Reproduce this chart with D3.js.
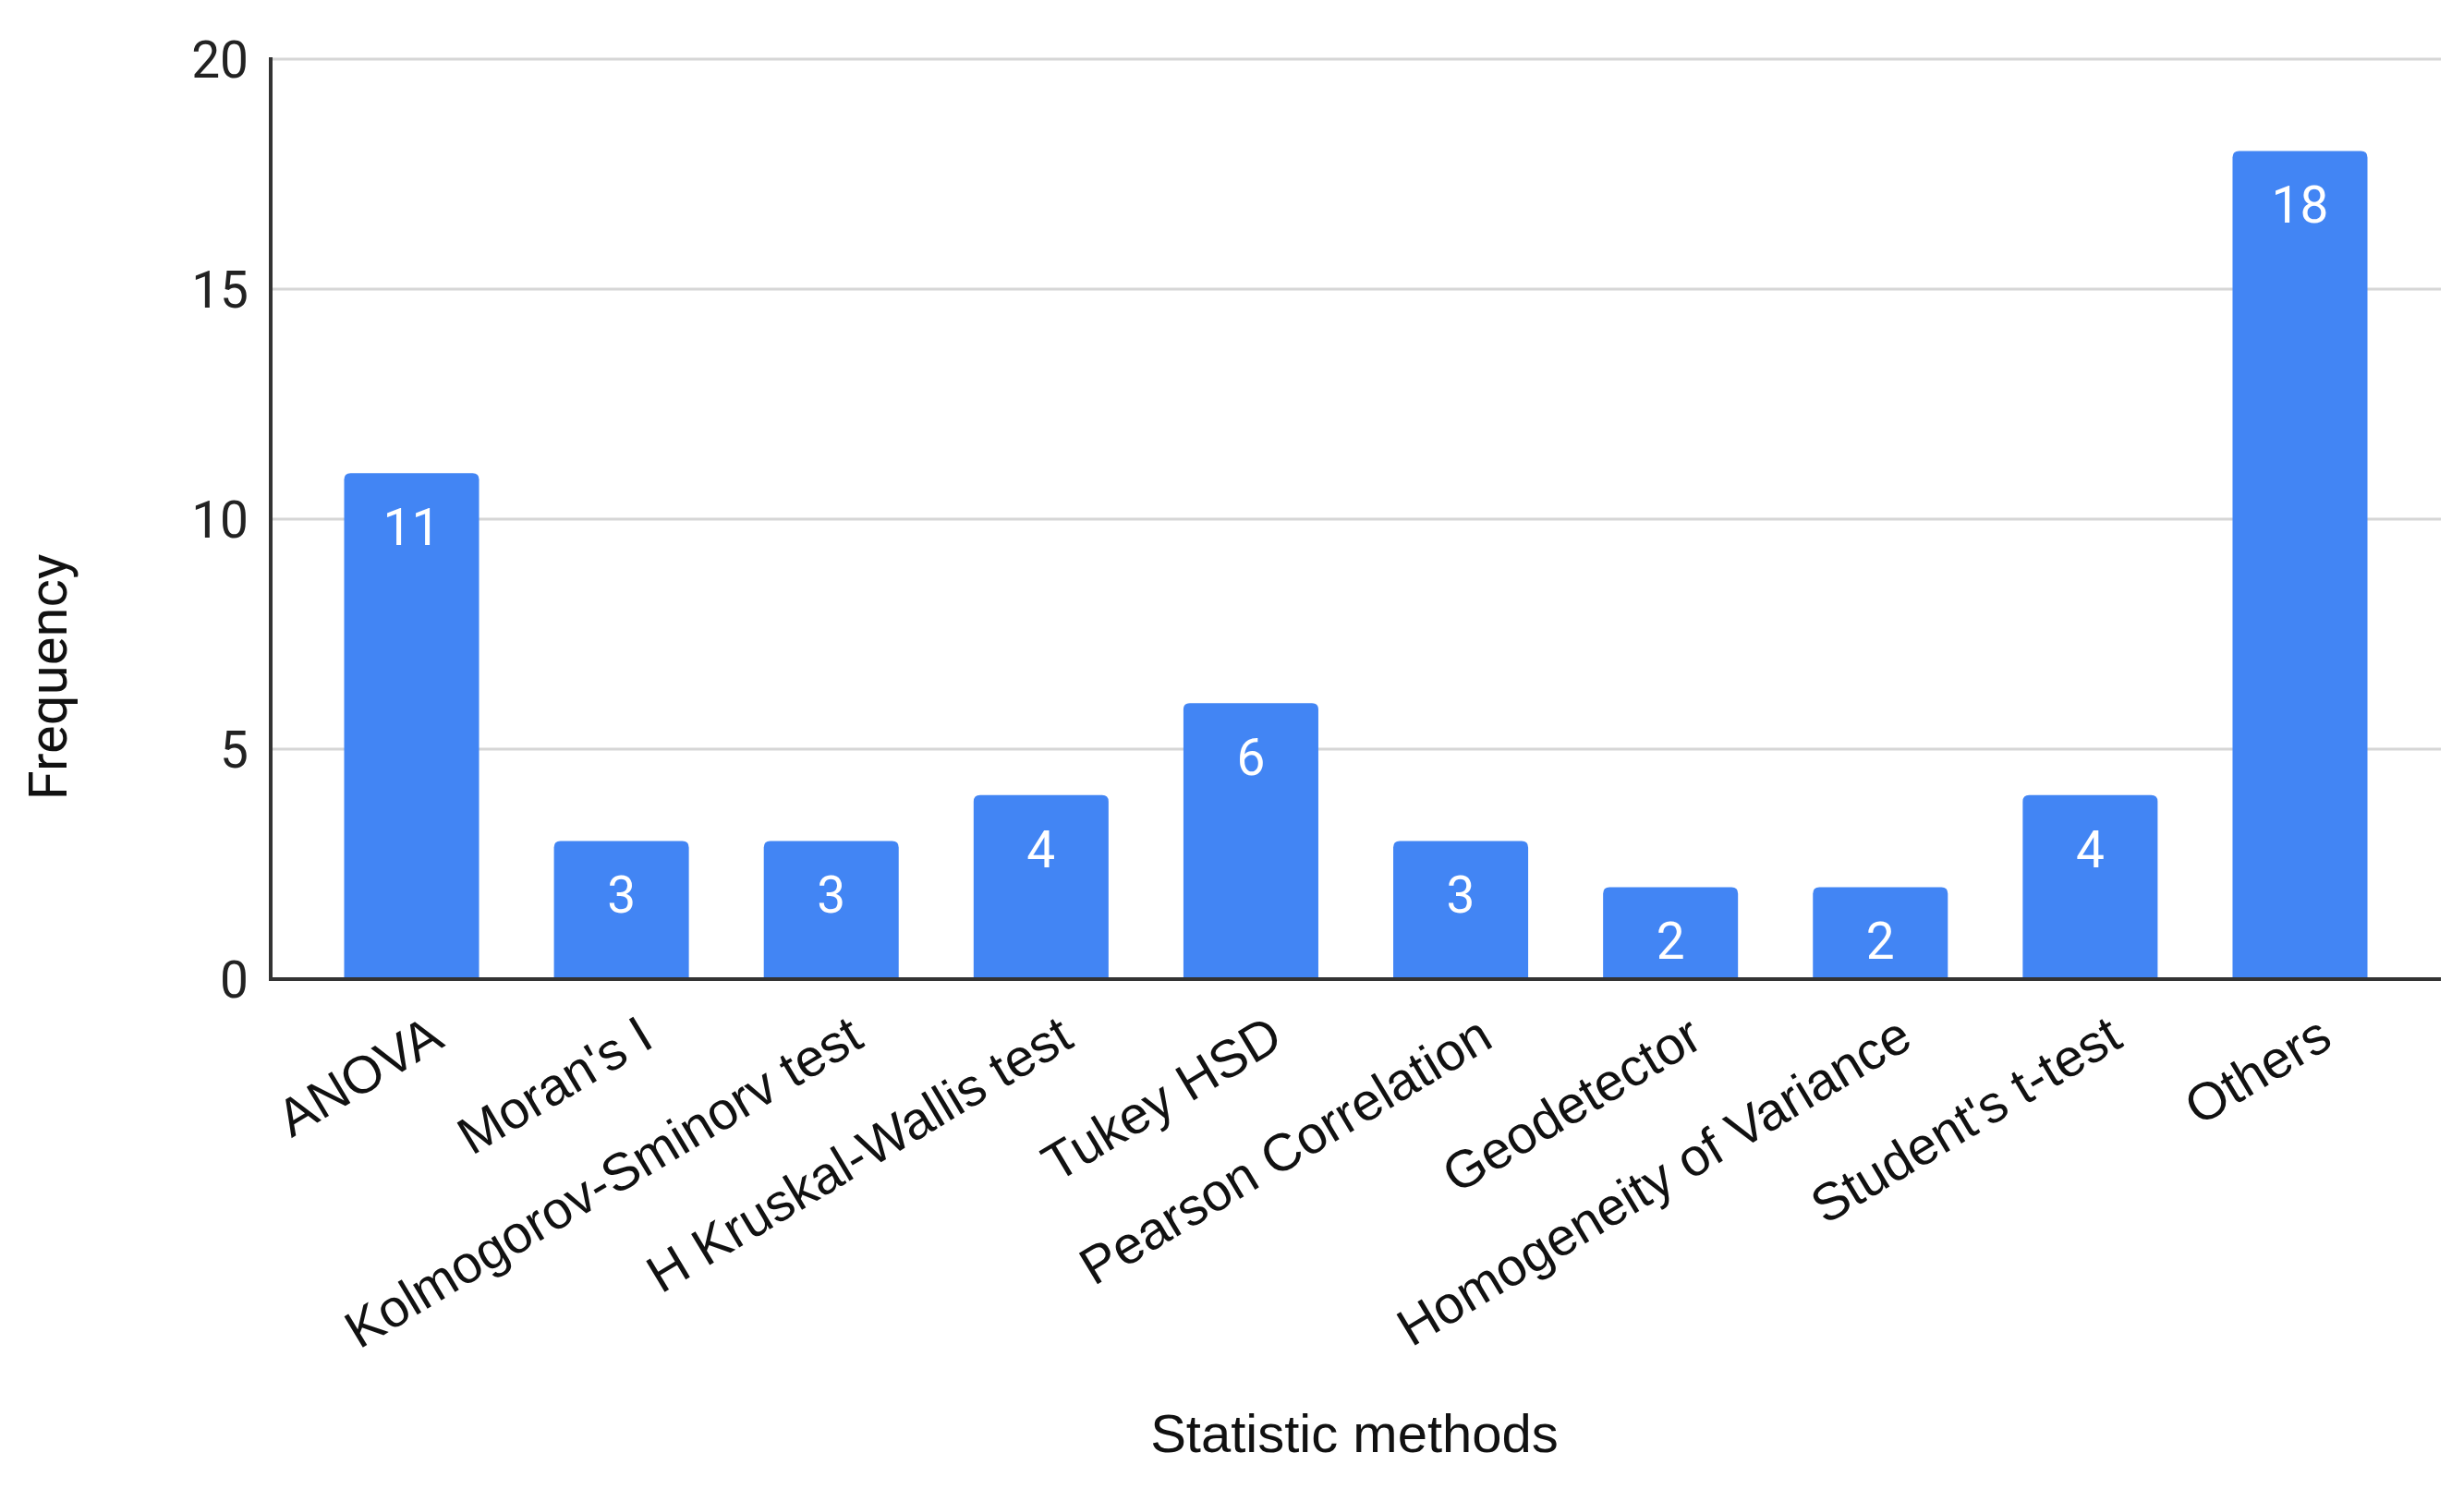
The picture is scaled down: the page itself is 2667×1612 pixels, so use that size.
<!DOCTYPE html>
<html>
<head>
<meta charset="utf-8">
<script src="https://cdn.jsdelivr.net/npm/d3@7"></script>
<style>
  html, body { margin: 0; padding: 0; background: #fff; }
  svg { display: block; }
</style>
</head>
<body>
<script>
const categories = ["ANOVA", "Moran's I", "Kolmogorov-Sminorv test", "H Kruskal-Wallis test", "Tukey HSD",
  "Pearson Correlation", "Geodetector", "Homogeneity of Variance", "Student's t-test", "Others"];
const values = [11, 3, 3, 4, 6, 3, 2, 2, 4, 18];
const yTicks = [0, 5, 10, 15, 20];
const xTitle = "Statistic methods";
const yTitle = "Frequency";

(function () {
const W = 2667, H = 1612;
const mLeft = 293, mRight = 2642, mTop = 64, mBottom = 1060;

const svg = d3.select("body").append("svg").attr("width", W).attr("height", H);

const x = d3.scaleBand().domain(categories).range([mLeft, mRight]).paddingInner(0.357).paddingOuter(0.35);
const y = d3.scaleLinear().domain([0, 20]).range([mBottom, mTop]);

// gridlines
svg.append("g").selectAll("line").data(yTicks.filter(d => d > 0)).join("line")
  .attr("x1", mLeft).attr("x2", mRight)
  .attr("y1", d => y(d)).attr("y2", d => y(d))
  .attr("stroke", "#d6d6d6").attr("stroke-width", 3);

// y tick labels
const yAxis = d3.axisLeft(y).tickValues(yTicks).tickSize(0).tickPadding(24);
const gy = svg.append("g").attr("transform", `translate(${mLeft},0)`).call(yAxis);
gy.select(".domain").remove();
gy.selectAll("text").attr("font-family", "Roboto, 'Noto Sans', sans-serif").attr("font-size", 55)
  .attr("fill", "#222").attr("dy", "0.36em");

// bars with rounded top corners
const r = 7;
function barPath(x0, y0, w, h) {
  return `M${x0},${y0 + h}V${y0 + r}Q${x0},${y0} ${x0 + r},${y0}H${x0 + w - r}Q${x0 + w},${y0} ${x0 + w},${y0 + r}V${y0 + h}Z`;
}
svg.append("g").selectAll("path").data(categories).join("path")
  .attr("d", (c, i) => barPath(x(c), y(values[i]), x.bandwidth(), mBottom - y(values[i])))
  .attr("fill", "#4285F4");

// value labels
svg.append("g").selectAll("text").data(categories).join("text")
  .attr("x", c => x(c) + x.bandwidth() / 2)
  .attr("y", (c, i) => y(values[i]) + 58)
  .attr("dy", "0.36em")
  .attr("text-anchor", "middle")
  .attr("font-family", "Roboto, 'Noto Sans', sans-serif")
  .attr("font-size", 55)
  .attr("fill", "#fff")
  .text((c, i) => values[i]);

// axis lines
svg.append("line").attr("x1", mLeft).attr("x2", mLeft).attr("y1", mTop - 2).attr("y2", mBottom + 2)
  .attr("stroke", "#333").attr("stroke-width", 4);
const xAxis = d3.axisBottom(x).tickSize(0).tickPadding(0);
const gx = svg.append("g").attr("transform", `translate(0,${mBottom})`).call(xAxis);
gx.select(".domain").attr("stroke", "#333").attr("stroke-width", 4).attr("d", `M${mLeft - 2},0H${mRight}`);
gx.selectAll(".tick text")
  .attr("font-family", "'Liberation Sans', Arial, sans-serif")
  .attr("font-size", 57)
  .attr("fill", "#111")
  .attr("text-anchor", "end")
  .attr("dy", null)
  .attr("y", null)
  .attr("transform", `translate(16,36) rotate(-31)`)
  .attr("dominant-baseline", "hanging");

// axis titles
svg.append("text").attr("x", 1466).attr("y", 1572).attr("text-anchor", "middle")
  .attr("font-family", "'Liberation Sans', Arial, sans-serif").attr("font-size", 58).attr("fill", "#111")
  .text(xTitle);
svg.append("text").attr("transform", `translate(72,733) rotate(-90)`).attr("text-anchor", "middle")
  .attr("font-family", "Roboto, 'Noto Sans', sans-serif").attr("font-size", 58).attr("fill", "#111")
  .text(yTitle);
})();
</script>
</body>
</html>
